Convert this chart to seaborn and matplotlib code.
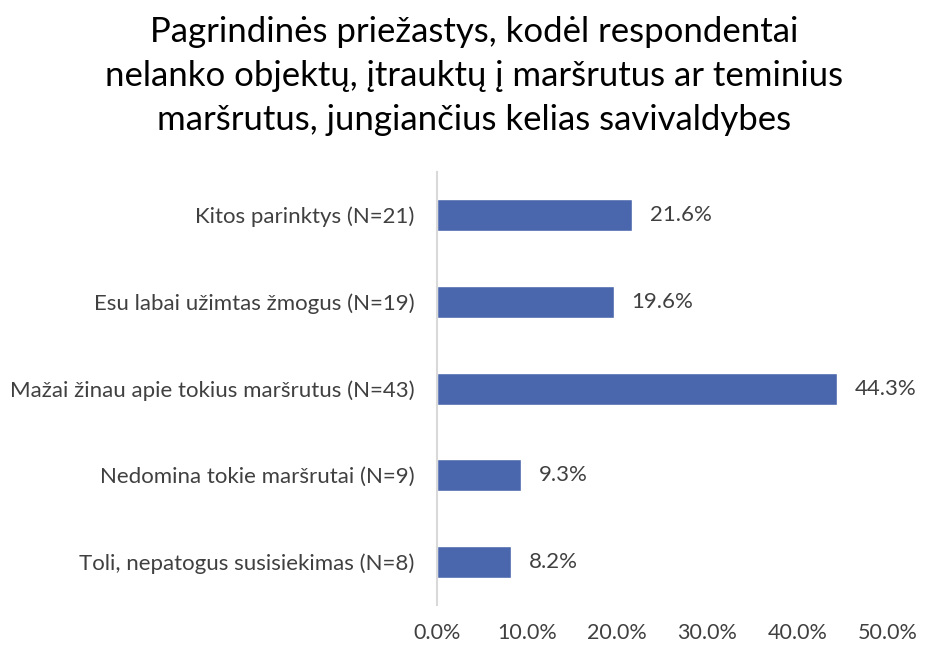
import numpy as np
import pandas as pd
import seaborn as sns
import matplotlib.pyplot as plt
import matplotlib.ticker as ticker

categories = ["Kitos parinktys (N=21)", "Esu labai užimtas žmogus (N=19)",
              "Mažai žinau apie tokius maršrutus (N=43)", "Nedomina tokie maršrutai (N=9)",
              "Toli, nepatogus susisiekimas (N=8)"]
values = [21.6, 19.6, 44.3, 9.3, 8.2]
xticks = [0, 10, 20, 30, 40, 50]

title = ("Pagrindinės priežastys, kodėl respondentai\n"
         "nelanko objektų, įtrauktų į maršrutus ar teminius\n"
         "maršrutus, jungiančius kelias savivaldybes")

sns.set_style("white")
plt.rcParams['font.family'] = ['Lato', 'DejaVu Sans']

df = pd.DataFrame({"cat": categories, "val": values})

fig = plt.figure(figsize=(9.27, 6.46), dpi=100)
ax = fig.add_axes([0.471, 0.063, 0.487, 0.671])
sns.barplot(data=df, x="val", y="cat", color="#4A66AC", width=0.37, ax=ax, saturation=1)

for i, v in enumerate(values):
    ax.text(v + 2.0, i, f"{v:.1f}%", va="center", ha="left", fontsize=16, color="#404040")

ax.set_xlim(0, 50)
ax.xaxis.set_major_locator(ticker.FixedLocator(xticks))
ax.xaxis.set_major_formatter(ticker.FuncFormatter(lambda x, p: f"{x:.1f}%"))
ax.tick_params(axis="x", length=0, pad=13, labelsize=15.5, labelcolor="#404040")
ax.tick_params(axis="y", length=0, pad=16, labelsize=16, labelcolor="#404040")
ax.set_xlabel("")
ax.set_ylabel("")
for s in ["top", "right", "bottom"]:
    ax.spines[s].set_visible(False)
ax.spines["left"].set_color("#D9D9D9")
ax.spines["left"].set_linewidth(1.5)

fig.text(0.511, 0.975, title, ha="center", va="top", fontsize=25, color="#000000",
         linespacing=1.45)

plt.savefig("out.png", dpi=100)
